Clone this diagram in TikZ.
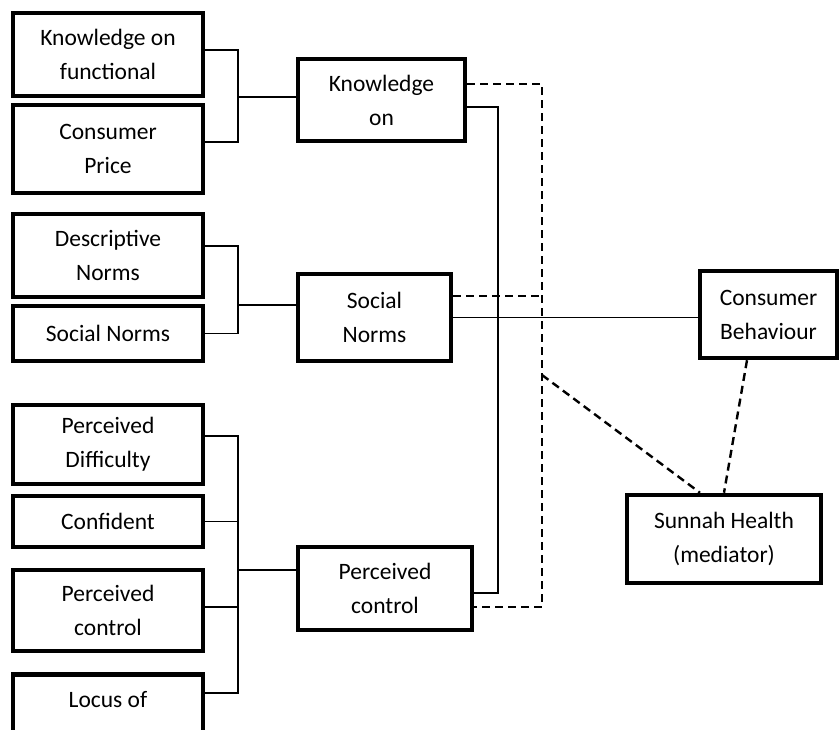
\documentclass[tikz,border=0pt]{standalone}
\usepackage{fontspec}
\setmainfont{Carlito}
\usetikzlibrary{calc}

\begin{document}
\begin{tikzpicture}[
    x=1pt, y=-1pt,
    factor/.style={rectangle, draw=black, line width=4.5pt, align=center, inner sep=0pt, font=\fontsize{23.5}{34}\selectfont},
    link/.style={-, line width=1.4pt, black},
    mediation/.style={-, line width=2.4pt, black, dash pattern=on 8pt off 5pt}
]
    \useasboundingbox (0,0) rectangle (839,730);
    \clip (0,0) rectangle (839,730);

    \node[factor, minimum width=190pt, minimum height=83pt] (k1) at (108,54.5) {Knowledge on\\functional};
    \node[factor, minimum width=190pt, minimum height=88pt] (k2) at (108,149) {Consumer\\Price};
    \node[factor, minimum width=190pt, minimum height=83pt] (s1) at (108,255.5) {Descriptive\\Norms};
    \node[factor, minimum width=190pt, minimum height=55pt] (s2) at (108,333.5) {Social Norms};
    \node[factor, minimum width=190pt, minimum height=79pt] (p1) at (108,444.5) {Perceived\\Difficulty};
    \node[factor, minimum width=190pt, minimum height=51pt] (p2) at (108,521.5) {Confident};
    \node[factor, minimum width=190pt, minimum height=81pt] (p3) at (108,610.5) {Perceived\\control};
    \node[factor, minimum width=190pt, minimum height=85pt] (p4) at (108,717) {Locus of\\\phantom{control}};

    \node[factor, minimum width=167pt, minimum height=82pt] (know) at (381.5,100) {Knowledge\\on};
    \node[factor, minimum width=153pt, minimum height=87pt] (social) at (374.5,317.5) {Social\\Norms};
    \node[factor, minimum width=174pt, minimum height=83pt] (control) at (385,588.5) {Perceived\\control};

    \node[factor, minimum width=137pt, minimum height=87pt] (behaviour) at (768.5,314.5) {Consumer\\Behaviour};
    \node[factor, minimum width=194pt, minimum height=88pt] (sunnah) at (724,539) {Sunnah Health\\(mediator)};

    \coordinate (j1) at (238,97);
    \coordinate (j2) at (238,305);
    \coordinate (j3) at (238,570);
    \coordinate (sbus) at (498,350);
    \coordinate (dbus) at (542,375);
    \coordinate (dsoc) at ([yshift=21.5pt]social.east);

    \draw[link] ([yshift=4.5pt]k1.east) -| (j1) |- ([yshift=7pt]k2.east);
    \draw[link] (j1) -- (know.west |- j1);
    \draw[link] ([yshift=9.5pt]s1.east) -| (j2) |- (s2.east);
    \draw[link] (j2) -- (social.west |- j2);
    \draw[link] ([yshift=8.5pt]p1.east) -| (j3) |- ([yshift=24pt]p4.east);
    \draw[link] (p2.east) -- (p2.east -| j3);
    \draw[link] ([yshift=3.5pt]p3.east) -- ([yshift=3.5pt]p3.east -| j3);
    \draw[link] (j3) -- (control.west |- j3);

    \draw[link] ([yshift=-7pt]know.east) -| (sbus) |- ([yshift=-4.5pt]control.east);
    \draw[link] (social.east) -- (behaviour.west |- social.east);

    \draw[mediation] ([yshift=16pt]know.east) -| (dbus) |- ([yshift=-18.5pt]control.east);
    \draw[mediation] (dsoc) -- (dsoc -| dbus);
    \draw[mediation] (dbus) -- ([xshift=-24pt]sunnah.north);
    \draw[mediation] ([xshift=-21.5pt]behaviour.south) -- (sunnah.north);
\end{tikzpicture}
\end{document}
